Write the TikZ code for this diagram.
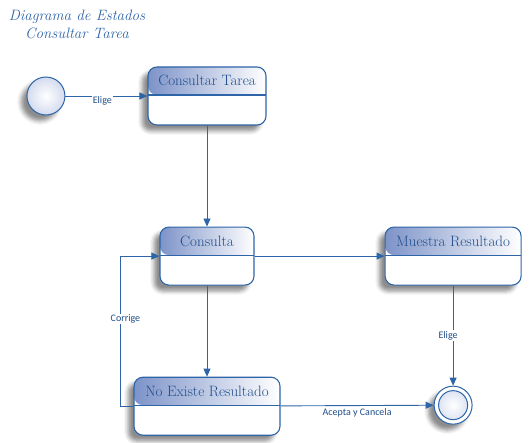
\documentclass[tikz,border=0pt]{standalone}
\usepackage{fontspec}
\newfontfamily\lblfont{Carlito}
\usepackage{tikz}
\usetikzlibrary{arrows.meta, positioning, shadows.blur}

\definecolor{edgeblue}{HTML}{2E64A8}
\definecolor{textblue}{HTML}{1F4E8C}
\definecolor{hdrblue}{HTML}{7D93C8}
\definecolor{ballblue}{HTML}{D3DBEE}

\begin{document}
\begin{tikzpicture}[
    x=1pt, y=-1pt,
    node distance=1cm,
    statebox/.style={rectangle, rounded corners=9pt, draw=edgeblue, line width=1.1pt, fill=white,
        minimum height=58pt, inner ysep=0pt, text height=19pt, text depth=39pt,
        font=\fontsize{15}{17}\selectfont, text=textblue,
        blur shadow={shadow xshift=-6pt, shadow yshift=-6pt, shadow blur radius=4pt, shadow opacity=45},
        path picture={
            \shade[left color=hdrblue, right color=white]
                (path picture bounding box.north west) rectangle ([yshift=-28pt]path picture bounding box.north east);
            \draw[edgeblue, line width=1.1pt]
                ([yshift=-28pt]path picture bounding box.north west) -- ([yshift=-28pt]path picture bounding box.north east);
        }},
    startpt/.style={circle, draw=edgeblue, line width=1pt, minimum size=38pt, inner sep=0pt,
        inner color=white, outer color=ballblue,
        blur shadow={shadow xshift=-6pt, shadow yshift=-6pt, shadow blur radius=4pt, shadow opacity=45}},
    endpt/.style={circle, draw=edgeblue, line width=1pt, minimum size=38pt, inner sep=0pt, fill=white,
        blur shadow={shadow xshift=-6pt, shadow yshift=-6pt, shadow blur radius=4pt, shadow opacity=45},
        path picture={
            \shade[inner color=white, outer color=ballblue] (path picture bounding box.center) circle (14.5pt);
            \draw[edgeblue, line width=1pt] (path picture bounding box.center) circle (14.5pt);
        }},
    title/.style={font=\itshape\fontsize{15}{18}\selectfont, text=edgeblue, align=center},
    lbl/.style={font=\lblfont\fontsize{10}{12}\selectfont, text=textblue, fill=white, inner sep=1pt},
    arrow/.style={-{Triangle[length=8pt, width=7pt]}, draw=edgeblue, line width=0.9pt}
]
\useasboundingbox (0,0) rectangle (529,443);

\node[title] (ttl) at (77, 24) {Diagrama de Estados\\Consultar Tarea};

\node[statebox, minimum width=118pt] (ct) at (207, 96) {Consultar Tarea};
\node[startpt, left=82pt of ct] (ini) {};
\node[statebox, minimum width=94pt, below=101pt of ct] (co) {Consulta};
\node[statebox, minimum width=136pt, right=130pt of co] (mr) {Muestra Resultado};
\node[statebox, minimum width=146pt, below=91pt of co] (ne) {No Existe Resultado};
\node[endpt, below=100pt of mr] (fin) {};

\draw[arrow] (ini) -- node[lbl, pos=0.45, yshift=-5pt] {Elige} (ct);
\foreach \a/\b in {ct/co, co/ne, co/mr}
    \draw[arrow] (\a) -- (\b);
\draw[arrow] (mr) -- node[lbl, xshift=-5pt] {Elige} (fin);
\draw[arrow] (ne) -- node[lbl, yshift=-7pt] {Acepta y Cancela} (fin);
\draw[arrow] (ne.west) -- ++(-13,0) |- node[lbl, pos=0.29, xshift=5pt] {Corrige} (co.west);

\end{tikzpicture}
\end{document}
